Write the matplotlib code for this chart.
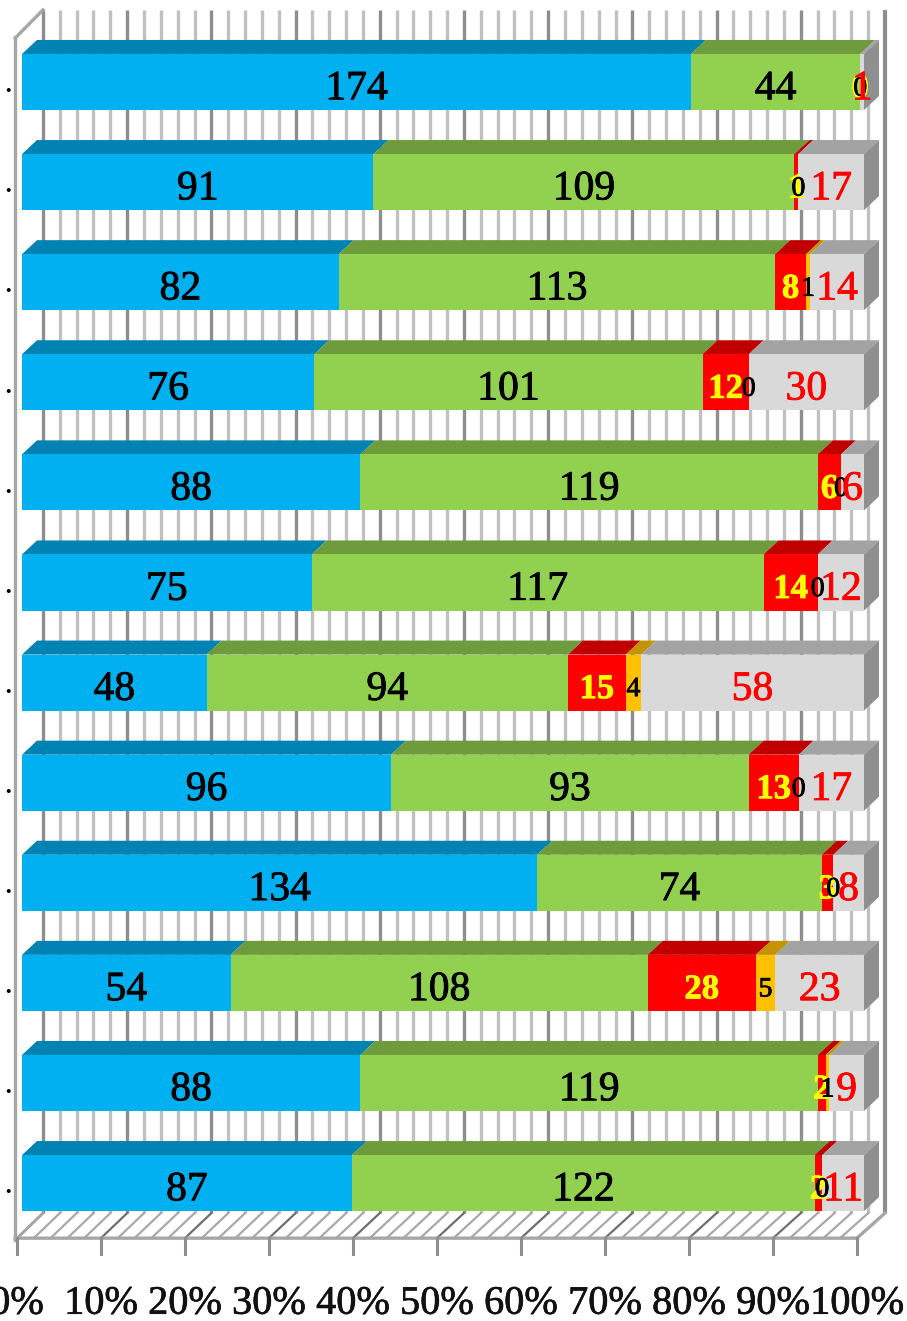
import matplotlib
matplotlib.use('Agg')
import matplotlib.pyplot as plt
import matplotlib.patheffects as pe
import numpy as np

# counts per row, top to bottom
blue = [174, 91, 82, 76, 88, 75, 48, 96, 134, 54, 88, 87]
green = [44, 109, 113, 101, 119, 117, 94, 93, 74, 108, 119, 122]
red = [0, 1, 8, 12, 6, 14, 15, 13, 3, 28, 2, 2]
orange = [0, 0, 1, 0, 0, 0, 4, 0, 0, 5, 1, 0]
grey = [1, 17, 14, 30, 6, 12, 58, 17, 8, 23, 9, 11]
row_labels = ['…'] * 12
tick_labels = ['0%', '10%', '20%', '30%', '40%', '50%', '60%', '70%', '80%', '90%', '100%']

series = [blue, green, red, orange, grey]
front_colors = ['#00B0F0', '#92D050', '#FF0000', '#FFC000', '#D9D9D9']
top_colors = ['#0083B3', '#6E9C3C', '#C00000', '#C49300', '#A3A3A3']
text_colors = ['black', 'black', '#FFFF00', 'black', '#FF0000']
text_sizes = [30, 30, 25, 20, 30]
text_weights = ['normal', 'normal', 'bold', 'normal', 'normal']

plt.rcParams['font.family'] = ['Liberation Serif', 'DejaVu Serif']

fig = plt.figure(figsize=(9.07, 13.21), dpi=100)
ax = fig.add_axes([0, 0, 1, 1])

# one percent is 8.42 px, one row is 100.1 px
ax.set_xlim(-22 / 8.42, (907 - 22) / 8.42)
ax.set_ylim((1321 - 82) / 100.1, -82 / 100.1)
ax.axis('off')

bar_h = 0.56
dx = 1.78   # bar depth
dy = 0.14
wall_dx = 2.49
wall_top = -0.72
floor_back = 11.30
floor_front = 11.55
axis_left = -0.6
axis_scale = 0.9976

# back wall grid and floor hatch
for pct in range(0, 101, 2):
    major = pct % 10 == 0
    col = '#8E8E8E' if major else '#C0C0C0'
    xb = wall_dx + pct
    xf = axis_left + pct * axis_scale
    lw = 3.0 if pct == 100 else 2.4
    ax.plot([xb, xb], [wall_top, floor_back], color=col, lw=lw, zorder=1, solid_capstyle='butt')
    if pct < 100:
        ax.plot([xf, xb], [floor_front, floor_back], color='#6E6E6E' if major else '#A8A8A8',
                lw=1.6, zorder=1)

# side wall and floor frame
frame = '#A6A6A6'
xl = axis_left - 0.2
ax.plot([xl, xl], [floor_front + 0.02, -0.44], color=frame, lw=2.4, zorder=2)
ax.plot([xl, wall_dx], [-0.44, wall_top], color=frame, lw=2.4, zorder=2)
ax.plot([xl, wall_dx], [floor_front + 0.02, floor_back], color=frame, lw=2.0, zorder=2)
ax.plot([xl, axis_left + 100 * axis_scale, wall_dx + 100],
        [floor_front, floor_front, floor_back], color=frame, lw=2.4, zorder=2)

# axis ticks and labels
for i, lab in enumerate(tick_labels):
    xt = axis_left + i * 10 * axis_scale
    ax.plot([xt, xt], [floor_front, floor_front + 0.16], color='#8E8E8E', lw=2.2, zorder=2)
    ax.text(xt, 12.21, lab, ha='center', va='center', fontsize=29, color='#111111',
            path_effects=[pe.withStroke(linewidth=0.5, foreground='#111111')])

# bars
rows = np.arange(len(blue))
data = np.array(series, dtype=float)
shares = data / data.sum(axis=0) * 100
lefts = np.vstack([np.zeros(len(rows)), np.cumsum(shares, axis=0)[:-1]])

for s in range(len(series)):
    ax.barh(rows, shares[s], left=lefts[s], height=bar_h, color=front_colors[s], zorder=4)
    for r in rows:
        x0 = lefts[s][r]
        x1 = x0 + shares[s][r]
        yt = r - bar_h / 2
        if shares[s][r] > 0:
            ax.fill([x0, x1, x1 + dx, x0 + dx], [yt, yt, yt - dy, yt - dy],
                    color=top_colors[s], lw=0, zorder=3)

# right side of each bar
for r in rows:
    yt = r - bar_h / 2
    yb = r + bar_h / 2
    ax.fill([100, 100 + dx, 100 + dx, 100], [yt, yt - dy, yb - dy, yb],
            color='#8F8F8F', lw=0, zorder=3)
    ax.text(-1.0, r + 0.02, row_labels[r], ha='right', va='center', fontsize=24, color='black')

# value labels, later series sit on top
for s in range(len(series)):
    for r in rows:
        ax.text(lefts[s][r] + shares[s][r] / 2, r + 0.07, str(series[s][r]),
                ha='center', va='center', fontsize=text_sizes[s], color=text_colors[s],
                fontweight=text_weights[s], zorder=6 + s,
                path_effects=[pe.withStroke(linewidth=0.6, foreground=text_colors[s])])

fig.savefig('out.png', dpi=100)
